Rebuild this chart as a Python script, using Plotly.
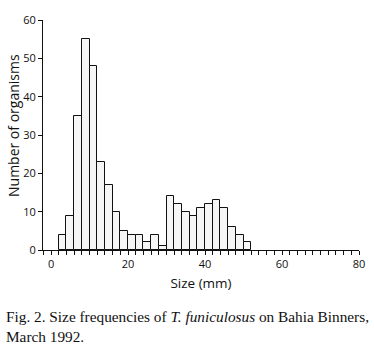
import plotly.graph_objects as go

bin_starts = [2, 4, 6, 8, 10, 12, 14, 16, 18, 20, 22, 24, 26, 28, 30, 32, 34, 36, 38, 40, 42, 44, 46, 48, 50]
counts = [4, 9, 35, 55, 48, 23, 17, 10, 5, 4, 4, 2, 4, 1, 14, 12, 10, 9, 11, 12, 13, 11, 6, 4, 2]
bin_width = 2
x_tick_vals = [0, 20, 40, 60, 80]
y_tick_vals = [0, 10, 20, 30, 40, 50, 60]

centers = [s + bin_width / 2 for s in bin_starts]

fig = go.Figure()
fig.add_trace(go.Bar(
    x=centers, y=counts, width=bin_width,
    marker=dict(color="#f6f6f6", line=dict(color="#111111", width=1)),
    showlegend=False,
))

sans = "Open Sans, Noto Sans, sans-serif"
axis_font = dict(family=sans, size=11, color="#111111")
fig.update_layout(
    width=374, height=344,
    margin=dict(l=43, r=15, t=20, b=94),
    paper_bgcolor="white", plot_bgcolor="white",
    bargap=0,
    xaxis=dict(
        range=[-2.1, 80], tickvals=x_tick_vals, ticks="outside", ticklen=4,
        tickcolor="#111111", tickwidth=1, showline=True, linecolor="#111111",
        linewidth=1, showgrid=False, zeroline=False, tickfont=axis_font,
        automargin=False,
        minor=dict(dtick=2, tick0=0, ticks="outside", ticklen=4, tickcolor="#111111", showgrid=False),
        title=dict(text="Size (mm)", font=dict(family=sans, size=13.5, color="#111111"), standoff=8),
    ),
    yaxis=dict(
        range=[0, 60], tickvals=y_tick_vals, ticks="outside", ticklen=4,
        tickcolor="#111111", tickwidth=1, showline=True, linecolor="#111111",
        linewidth=1, showgrid=False, zeroline=False, tickfont=axis_font,
        automargin=False,
    ),
    annotations=[
        dict(
            xref="paper", yref="paper", x=-30 / 316, y=124 / 230, xanchor="center", yanchor="middle",
            textangle=-90, showarrow=False, text="Number of organisms",
            font=dict(family=sans, size=14, color="#111111"),
        ),
        dict(
            xref="paper", yref="paper", x=-0.123, y=-0.245, xanchor="left", yanchor="top",
            align="left", showarrow=False,
            text="Fig. 2. Size frequencies of <i>T. funiculosus</i> on Bahia Binners,<br>March 1992.",
            font=dict(family="Liberation Serif, Times New Roman, serif", size=15.3, color="#111111"),
        ),
    ],
)

fig.write_html(
    "out.html",
    config={"displayModeBar": False},
    post_script="document.body.style.margin='0';document.body.style.overflow='hidden';",
)
